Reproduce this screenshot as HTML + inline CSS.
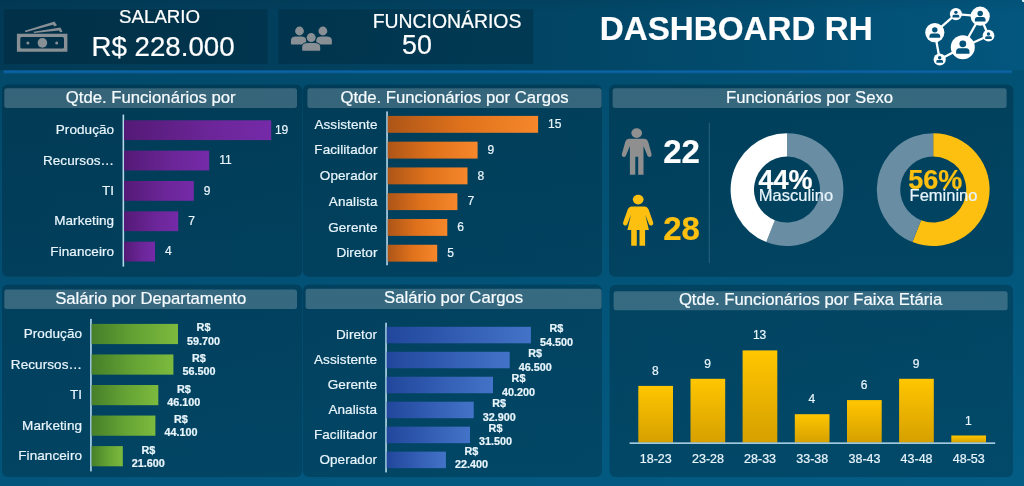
<!DOCTYPE html>
<html lang="pt-BR"><head><meta charset="utf-8"><title>Dashboard RH</title>
<style>
html,body{margin:0;padding:0;background:#034b6e;}
body{width:1024px;height:486px;overflow:hidden;font-family:"Liberation Sans", Arial, sans-serif;}
svg{display:block;font-family:"Liberation Sans", Arial, sans-serif;filter:blur(0.35px);}
text{fill:#e8f5fc;stroke:#e8f5fc;stroke-width:0.22px;stroke-linejoin:round;}
.t{font-size:16.7px;text-anchor:middle;fill:#f6fbfe;stroke:#f6fbfe;}
.l{font-size:13.5px;text-anchor:end;letter-spacing:0.08px;}
.v{font-size:12px;text-anchor:start;}
.vc{font-size:12px;text-anchor:middle;}
.c{font-size:12.5px;text-anchor:middle;}
.d{font-size:10.8px;font-weight:bold;text-anchor:middle;}
</style></head><body>
<svg width="1024" height="486" viewBox="0 0 1024 486">
<defs>
<linearGradient id="bg" x1="0" y1="0" x2="0" y2="1"><stop offset="0" stop-color="rgb(2,67,98)"/><stop offset="0.145" stop-color="rgb(2,73,106)"/><stop offset="1" stop-color="rgb(3,85,124)"/></linearGradient>
<linearGradient id="bgh" x1="0" y1="0" x2="1" y2="0"><stop offset="0" stop-color="rgb(0,200,255)" stop-opacity="0"/><stop offset="1" stop-color="rgb(0,200,255)" stop-opacity="0.065"/></linearGradient>
<linearGradient id="hd" x1="0" y1="0" x2="1" y2="0"><stop offset="0" stop-color="rgb(2,58,86)"/><stop offset="0.27" stop-color="rgb(2,63,93)"/><stop offset="0.55" stop-color="rgb(2,69,100)"/><stop offset="1" stop-color="rgb(3,86,126)"/></linearGradient>
<linearGradient id="hdt" x1="0" y1="0" x2="0" y2="1"><stop offset="0" stop-color="#000" stop-opacity="0.05"/><stop offset="1" stop-color="#000" stop-opacity="0"/></linearGradient>
<linearGradient id="gl" x1="0" y1="0" x2="0" y2="1"><stop offset="0" stop-color="#0c66aa"/><stop offset="0.45" stop-color="#0b63a4"/><stop offset="1" stop-color="#075585"/></linearGradient>
<linearGradient id="gp" x1="0" y1="0" x2="1" y2="0"><stop offset="0" stop-color="#541a76"/><stop offset="0.6" stop-color="#6c2699"/><stop offset="1" stop-color="#752aa8"/></linearGradient>
<linearGradient id="go" x1="0" y1="0" x2="1" y2="0"><stop offset="0" stop-color="#ad5517"/><stop offset="0.5" stop-color="#e0721c"/><stop offset="1" stop-color="#f6872a"/></linearGradient>
<linearGradient id="gg" x1="0" y1="0" x2="1" y2="0"><stop offset="0" stop-color="#467f29"/><stop offset="0.5" stop-color="#64a234"/><stop offset="1" stop-color="#7cba3e"/></linearGradient>
<linearGradient id="gb" x1="0" y1="0" x2="1" y2="0"><stop offset="0" stop-color="#21479c"/><stop offset="1" stop-color="#4373c8"/></linearGradient>
<linearGradient id="gy" x1="0" y1="0" x2="0" y2="1"><stop offset="0" stop-color="#ffc600"/><stop offset="1" stop-color="#d6a000"/></linearGradient>
</defs>
<rect width="1024" height="486" fill="url(#bg)"/>
<rect width="1024" height="486" fill="url(#bgh)"/>
<rect width="1024" height="70.2" fill="url(#hd)"/>
<rect width="1024" height="12" fill="url(#hdt)"/>

<rect x="3.8" y="9.3" width="263.9" height="54.6" fill="rgba(0,0,0,0.16)"/>
<rect x="278.4" y="9.3" width="254.8" height="54.6" fill="rgba(0,0,0,0.16)"/>
<rect x="3.6" y="70.5" width="1008.4" height="3.1" fill="url(#gl)"/>
<text style="fill:#fff;stroke:#fff" x="159.6" y="23.4" font-size="18.7" text-anchor="middle">SALARIO</text>
<text style="fill:#fff;stroke:#fff" x="163" y="55.5" font-size="27.7" text-anchor="middle">R$ 228.000</text>
<text style="fill:#fff;stroke:#fff" x="447" y="28.1" font-size="19.4" text-anchor="middle">FUNCIONÁRIOS</text>
<text style="fill:#fff;stroke:#fff" x="417" y="54" font-size="26.8" text-anchor="middle">50</text>
<text style="fill:#fff;stroke:#fff" x="736.2" y="40.2" font-size="33.2" font-weight="bold" text-anchor="middle">DASHBOARD RH</text>
<path fill="#888f95" fill-rule="evenodd" d="M16.9 33.7 H67.4 V51.8 H16.9 Z M21.8 37.1 Q20.3 37.1 20.3 38.6 V46.9 Q20.3 48.4 21.8 48.4 H62.5 Q64 48.4 64 46.9 V38.6 Q64 37.1 62.5 37.1 Z"/>
<g fill="#888f95"><path d="M24.8 30.8 L54.4 21.5 L57 25.3 L54.4 26.4 L53.1 24.8 L25.4 32.3 Z"/><path d="M33.6 31.7 L60.4 27.5 L62.6 31.7 L60 32.3 L59 30.5 L34 33 Z"/></g>
<g fill="#888f95"><circle cx="42.4" cy="42.9" r="4.8"/><circle cx="27.9" cy="42.9" r="1.5"/><circle cx="56.7" cy="42.9" r="1.5"/></g>
<g fill="#888f95"><circle cx="299.5" cy="31" r="4.4"/><path d="M291.70 44.5 Q290.9 44.5 290.9 43.70 L290.9 41.50 C290.9 37.39 292.40 36.6 297.05 36.6 L300.05 36.6 C304.70 36.6 306.2 37.39 306.2 41.50 L306.2 43.70 Q306.2 44.5 305.40 44.5 Z"/><circle cx="322.9" cy="31" r="4.4"/><path d="M317.00 44.5 Q316.2 44.5 316.2 43.70 L316.2 41.50 C316.2 37.39 317.70 36.6 322.55 36.6 L325.55 36.6 C330.40 36.6 331.9 37.39 331.9 41.50 L331.9 43.70 Q331.9 44.5 331.10 44.5 Z"/></g>
<g fill="#888f95" stroke="#02384f" stroke-width="1.6" paint-order="stroke"><circle cx="311.2" cy="37.6" r="4.5"/><path d="M303.00 50.8 Q302.2 50.8 302.2 50.00 L302.2 47.80 C302.2 43.69 303.70 42.9 309.70 42.9 L312.70 42.9 C318.70 42.9 320.2 43.69 320.2 47.80 L320.2 50.00 Q320.2 50.8 319.40 50.8 Z"/></g>
<g stroke="#ffffff" stroke-width="2.3" fill="none">
<line x1="934.8" y1="32.6" x2="955.9" y2="14.1"/>
<line x1="955.9" y1="14.1" x2="980.2" y2="16.2"/>
<line x1="980.2" y1="16.2" x2="988.5" y2="35.7"/>
<line x1="988.5" y1="35.7" x2="962.8" y2="47.2"/>
<line x1="962.8" y1="47.2" x2="939.7" y2="59.5"/>
<line x1="939.7" y1="59.5" x2="934.8" y2="32.6"/>
<line x1="980.2" y1="16.2" x2="962.8" y2="47.2"/>
</g>
<circle cx="934.8" cy="32.6" r="9.6" fill="#ffffff"/>
<circle cx="934.8" cy="29.87" r="2.73" fill="#03527a"/>
<path d="M929.44 37.85 L929.44 36.24 C929.44 33.81 931.36 33.51 932.78 33.51 L936.82 33.51 C938.24 33.51 940.16 33.81 940.16 36.24 L940.16 37.85 Z" fill="#03527a"/>
<circle cx="955.9" cy="14.1" r="6.1" fill="#ffffff"/>
<circle cx="955.9" cy="12.37" r="1.73" fill="#03527a"/>
<path d="M952.50 17.44 L952.50 16.41 C952.50 14.87 953.72 14.68 954.62 14.68 L957.18 14.68 C958.08 14.68 959.30 14.87 959.30 16.41 L959.30 17.44 Z" fill="#03527a"/>
<circle cx="980.2" cy="16.2" r="9.6" fill="#ffffff"/>
<circle cx="980.2" cy="13.47" r="2.73" fill="#03527a"/>
<path d="M974.84 21.45 L974.84 19.84 C974.84 17.41 976.76 17.11 978.18 17.11 L982.22 17.11 C983.64 17.11 985.56 17.41 985.56 19.84 L985.56 21.45 Z" fill="#03527a"/>
<circle cx="988.5" cy="35.7" r="5.9" fill="#ffffff"/>
<circle cx="988.5" cy="34.02" r="1.68" fill="#03527a"/>
<path d="M985.21 38.93 L985.21 37.94 C985.21 36.45 986.39 36.26 987.26 36.26 L989.74 36.26 C990.61 36.26 991.79 36.45 991.79 37.94 L991.79 38.93 Z" fill="#03527a"/>
<circle cx="962.8" cy="47.2" r="12" fill="#ffffff"/>
<circle cx="962.8" cy="43.79" r="3.41" fill="#03527a"/>
<path d="M956.11 53.77 L956.11 51.75 C956.11 48.72 958.51 48.34 960.27 48.34 L965.33 48.34 C967.09 48.34 969.49 48.72 969.49 51.75 L969.49 53.77 Z" fill="#03527a"/>
<circle cx="939.7" cy="59.5" r="6.1" fill="#ffffff"/>
<circle cx="939.7" cy="57.77" r="1.73" fill="#03527a"/>
<path d="M936.30 62.84 L936.30 61.81 C936.30 60.27 937.52 60.08 938.42 60.08 L940.98 60.08 C941.88 60.08 943.10 60.27 943.10 61.81 L943.10 62.84 Z" fill="#03527a"/>
<rect x="2" y="84.5" width="300.2" height="192.3" rx="6" fill="rgba(0,0,0,0.2)"/>
<rect x="302.8" y="84.5" width="299.2" height="192.3" rx="6" fill="rgba(0,0,0,0.2)"/>
<rect x="609" y="84.5" width="404.4" height="192.3" rx="6" fill="rgba(0,0,0,0.2)"/>
<rect x="2" y="284.6" width="300.2" height="192.39999999999998" rx="6" fill="rgba(0,0,0,0.2)"/>
<rect x="302.8" y="284.6" width="299.2" height="192.39999999999998" rx="6" fill="rgba(0,0,0,0.2)"/>
<rect x="609.6" y="284.8" width="403.4" height="192.2" rx="6" fill="rgba(0,0,0,0.2)"/>
<rect x="4.3" y="88.2" width="292.7" height="19.799999999999997" rx="2.5" fill="rgba(255,255,255,0.21)"/>
<text class="t" x="150.7" y="102.5">Qtde. Funcionários por</text>
<rect x="307.4" y="88.2" width="294.20000000000005" height="19.799999999999997" rx="2.5" fill="rgba(255,255,255,0.21)"/>
<text class="t" x="454.5" y="102.5">Qtde. Funcionários por Cargos</text>
<rect x="612.6" y="88.2" width="394.0" height="19.799999999999997" rx="2.5" fill="rgba(255,255,255,0.21)"/>
<text class="t" x="809.6" y="102.5">Funcionários por Sexo</text>
<rect x="4.3" y="289.4" width="292.7" height="19.600000000000023" rx="2.5" fill="rgba(255,255,255,0.21)"/>
<text class="t" x="150.7" y="303.6">Salário por Departamento</text>
<rect x="305.6" y="288.7" width="296.0" height="20.30000000000001" rx="2.5" fill="rgba(255,255,255,0.21)"/>
<text class="t" x="453.6" y="303.2">Salário por Cargos</text>
<rect x="613.6" y="291.2" width="394.0" height="19.0" rx="2.5" fill="rgba(255,255,255,0.21)"/>
<text class="t" x="810.6" y="305.1">Qtde. Funcionários por Faixa Etária</text>
<rect x="122.55" y="114.6" width="1.6" height="152.00000000000003" fill="#b4d8ec"/>
<rect x="124.0" y="120.3" width="147.2" height="19.8" fill="url(#gp)"/>
<text class="l" x="114.2" y="134.3">Produção</text>
<text class="v" x="274.9" y="133.8">19</text>
<rect x="124.0" y="150.65" width="85.2" height="19.8" fill="url(#gp)"/>
<text class="l" x="114.2" y="164.7">Recursos…</text>
<text class="v" x="219.2" y="164.2">11</text>
<rect x="124.0" y="181.0" width="69.8" height="19.8" fill="url(#gp)"/>
<text class="l" x="114.2" y="195.0">TI</text>
<text class="v" x="203.8" y="194.5">9</text>
<rect x="124.0" y="211.35000000000002" width="54.2" height="19.8" fill="url(#gp)"/>
<text class="l" x="114.2" y="225.4">Marketing</text>
<text class="v" x="188.2" y="224.9">7</text>
<rect x="124.0" y="241.7" width="31.0" height="19.8" fill="url(#gp)"/>
<text class="l" x="114.2" y="255.7">Financeiro</text>
<text class="v" x="165.0" y="255.2">4</text>
<rect x="386.25" y="111.4" width="1.6" height="153.9" fill="#b4d8ec"/>
<rect x="387.7" y="115.9" width="150.4" height="16.9" fill="url(#go)"/>
<text class="l" x="377.5" y="128.5">Assistente</text>
<text class="v" x="548.1" y="128.0">15</text>
<rect x="387.7" y="141.67000000000002" width="89.9" height="16.9" fill="url(#go)"/>
<text class="l" x="377.5" y="154.2">Facilitador</text>
<text class="v" x="487.6" y="153.7">9</text>
<rect x="387.7" y="167.44" width="79.8" height="16.9" fill="url(#go)"/>
<text class="l" x="377.5" y="180.0">Operador</text>
<text class="v" x="477.5" y="179.5">8</text>
<rect x="387.7" y="193.21" width="69.7" height="16.9" fill="url(#go)"/>
<text class="l" x="377.5" y="205.8">Analista</text>
<text class="v" x="467.4" y="205.3">7</text>
<rect x="387.7" y="218.98000000000002" width="59.6" height="16.9" fill="url(#go)"/>
<text class="l" x="377.5" y="231.5">Gerente</text>
<text class="v" x="457.3" y="231.0">6</text>
<rect x="387.7" y="244.75" width="49.5" height="16.9" fill="url(#go)"/>
<text class="l" x="377.5" y="257.3">Diretor</text>
<text class="v" x="447.2" y="256.8">5</text>
<rect x="90.15" y="318.9" width="1.6" height="152.5" fill="#b4d8ec"/>
<rect x="91.60000000000001" y="323.9" width="86.4" height="20.2" fill="url(#gg)"/>
<text class="l" x="82.1" y="338.1">Produção</text>
<text class="d" x="203.5" y="331.4">R$</text>
<text class="d" x="203.5" y="344.5">59.700</text>
<rect x="91.60000000000001" y="354.45" width="81.8" height="20.2" fill="url(#gg)"/>
<text class="l" x="82.1" y="368.6">Recursos…</text>
<text class="d" x="198.9" y="361.9">R$</text>
<text class="d" x="198.9" y="375.0">56.500</text>
<rect x="91.60000000000001" y="385.0" width="66.7" height="20.2" fill="url(#gg)"/>
<text class="l" x="82.1" y="399.2">TI</text>
<text class="d" x="183.8" y="392.5">R$</text>
<text class="d" x="183.8" y="405.6">46.100</text>
<rect x="91.60000000000001" y="415.54999999999995" width="63.8" height="20.2" fill="url(#gg)"/>
<text class="l" x="82.1" y="429.8">Marketing</text>
<text class="d" x="180.9" y="423.0">R$</text>
<text class="d" x="180.9" y="436.1">44.100</text>
<rect x="91.60000000000001" y="446.09999999999997" width="31.2" height="20.2" fill="url(#gg)"/>
<text class="l" x="82.1" y="460.3">Financeiro</text>
<text class="d" x="148.3" y="453.6">R$</text>
<text class="d" x="148.3" y="466.7">21.600</text>
<rect x="385.25" y="322.7" width="1.6" height="149.7" fill="#b4d8ec"/>
<rect x="386.7" y="326.8" width="144.2" height="16.5" fill="url(#gb)"/>
<text class="l" x="377.1" y="339.2">Diretor</text>
<text class="d" x="556.4" y="332.4">R$</text>
<text class="d" x="556.4" y="345.6">54.500</text>
<rect x="386.7" y="351.77" width="123.0" height="16.5" fill="url(#gb)"/>
<text class="l" x="377.1" y="364.1">Assistente</text>
<text class="d" x="535.2" y="357.4">R$</text>
<text class="d" x="535.2" y="370.5">46.500</text>
<rect x="386.7" y="376.74" width="106.3" height="16.5" fill="url(#gb)"/>
<text class="l" x="377.1" y="389.1">Gerente</text>
<text class="d" x="518.5" y="382.4">R$</text>
<text class="d" x="518.5" y="395.5">40.200</text>
<rect x="386.7" y="401.71000000000004" width="87.0" height="16.5" fill="url(#gb)"/>
<text class="l" x="377.1" y="414.1">Analista</text>
<text class="d" x="499.2" y="407.4">R$</text>
<text class="d" x="499.2" y="420.5">32.900</text>
<rect x="386.7" y="426.68" width="83.3" height="16.5" fill="url(#gb)"/>
<text class="l" x="377.1" y="439.0">Facilitador</text>
<text class="d" x="495.5" y="432.3">R$</text>
<text class="d" x="495.5" y="445.4">31.500</text>
<rect x="386.7" y="451.65" width="59.2" height="16.5" fill="url(#gb)"/>
<text class="l" x="377.1" y="464.0">Operador</text>
<text class="d" x="471.4" y="455.3">R$</text>
<text class="d" x="471.4" y="468.4">22.400</text>
<rect x="638.3" y="385.9" width="34.7" height="56.7" fill="url(#gy)"/>
<text class="vc" x="655.3" y="374.9">8</text>
<text class="c" x="655.8" y="462.6">18-23</text>
<rect x="690.5" y="378.8" width="34.7" height="63.8" fill="url(#gy)"/>
<text class="vc" x="707.5" y="367.8">9</text>
<text class="c" x="708.0" y="462.6">23-28</text>
<rect x="742.6" y="350.4" width="34.7" height="92.2" fill="url(#gy)"/>
<text class="vc" x="759.6" y="339.4">13</text>
<text class="c" x="760.1" y="462.6">28-33</text>
<rect x="794.8" y="414.2" width="34.7" height="28.4" fill="url(#gy)"/>
<text class="vc" x="811.8" y="403.2">4</text>
<text class="c" x="812.3" y="462.6">33-38</text>
<rect x="847.0" y="400.1" width="34.7" height="42.5" fill="url(#gy)"/>
<text class="vc" x="864.0" y="389.1">6</text>
<text class="c" x="864.5" y="462.6">38-43</text>
<rect x="899.1" y="378.8" width="34.7" height="63.8" fill="url(#gy)"/>
<text class="vc" x="916.1" y="367.8">9</text>
<text class="c" x="916.6" y="462.6">43-48</text>
<rect x="951.3" y="435.5" width="34.7" height="7.1" fill="url(#gy)"/>
<text class="vc" x="968.3" y="424.5">1</text>
<text class="c" x="968.8" y="462.6">48-53</text>
<rect x="629.6" y="442.40000000000003" width="365.6" height="1.5" fill="#b4d8ec"/>
<rect x="708.8" y="122.7" width="0.9" height="140.6" fill="#2f6580"/>
<g fill="#8f8f90"><ellipse cx="636.7" cy="133.1" rx="5.4" ry="4.8"/><path d="M628.6 138.8 L644.8 138.8 Q647.4 139.4 648.2 142 L651.6 154.2 Q652 156.4 650 156.9 Q648 157.3 647.4 155.5 L643.5 146 L643.5 174.8 L638.2 174.8 L638.2 156.8 L635.3 156.8 L635.3 174.8 L629.9 174.8 L629.9 146 L626 155.5 Q625.4 157.3 623.4 156.9 Q621.4 156.4 621.8 154.2 L625.2 142 Q626 139.4 628.6 138.8 Z"/></g>
<g fill="#fdc010"><ellipse cx="638.2" cy="199.6" rx="5.4" ry="4.8"/><path d="M631.3 206.5 L645 206.5 Q647.6 206.9 648.6 209.5 L653.2 222.6 Q653.8 224.8 651.8 225.4 Q649.8 226 649 224.2 L645.3 214.8 L648.9 230.1 L645.1 230.1 L645.1 245.8 L639.5 245.8 L639.5 230.1 L636.8 230.1 L636.8 245.8 L631.2 245.8 L631.2 230.1 L627.4 230.1 L631 214.8 L627.3 224.2 Q626.5 226 624.5 225.4 Q622.5 224.8 623.1 222.6 L627.7 209.5 Q628.7 206.9 631.3 206.5 Z"/></g>
<text style="fill:#fff;stroke:#fff" x="681.5" y="162.8" font-size="33" font-weight="bold" text-anchor="middle">22</text>
<text x="681.5" y="240.4" font-size="33" font-weight="bold" text-anchor="middle" style="fill:#fdc010;stroke:#fdc010">28</text>
<path d="M787.00 133.20 A56.4 56.4 0 1 1 766.24 242.04 L774.85 220.28 A33 33 0 1 0 787.00 156.60 Z" fill="#698da3"/>
<path d="M766.24 242.04 A56.4 56.4 0 0 1 787.00 133.20 L787.00 156.60 A33 33 0 0 0 774.85 220.28 Z" fill="#ffffff"/>
<path d="M933.20 133.20 A56.4 56.4 0 1 1 912.44 242.04 L921.05 220.28 A33 33 0 1 0 933.20 156.60 Z" fill="#fdc010"/>
<path d="M912.44 242.04 A56.4 56.4 0 0 1 933.20 133.20 L933.20 156.60 A33 33 0 0 0 921.05 220.28 Z" fill="#698da3"/>
<text style="fill:#fff;stroke:#fff" x="758.4" y="189.2" font-size="27" font-weight="bold" text-anchor="start">44%</text>
<text x="758.8" y="200.8" font-size="16.5" text-anchor="start">Masculino</text>
<text x="908.2" y="189.2" font-size="27" font-weight="bold" text-anchor="start" style="fill:#fdc010;stroke:#fdc010">56%</text>
<text x="909.6" y="201.2" font-size="16.5" text-anchor="start">Feminino</text>
<circle cx="1024" cy="0" r="2.2" fill="#d8f4fb"/>
</svg></body></html>
